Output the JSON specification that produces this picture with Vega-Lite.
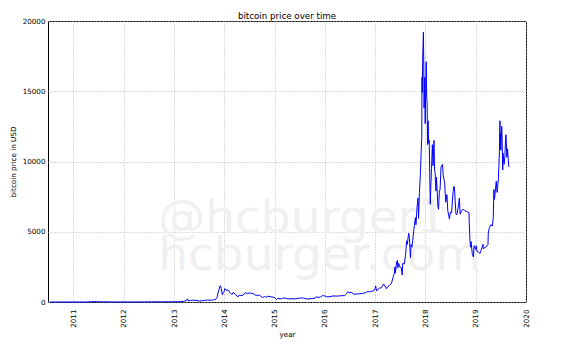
{
 "$schema": "https://vega.github.io/schema/vega-lite/v6.json",
 "width": 478,
 "height": 281,
 "autosize": {"type": "none"},
 "padding": {"left": 48, "top": 21, "right": 53, "bottom": 51},
 "background": "white",
 "title": {"text": "bitcoin price over time", "anchor": "middle", "baseline": "bottom", "offset": 2, "frame": "group", "dy": 15},
 "config": {
  "font": "DejaVu Sans",
  "view": {"stroke": "#000000", "strokeWidth": 1},
  "title": {"font": "DejaVu Sans", "fontSize": 8.7, "fontWeight": "normal", "color": "#000000"},
  "axis": {"domain": false, "ticks": false, "tickSize": 0, "grid": true, "gridColor": "#b8b8b8", "gridDash": [1, 2], "gridWidth": 1, "labelFont": "DejaVu Sans", "labelFontSize": 7.2, "labelColor": "#000000", "labelFlush": false, "titleFont": "DejaVu Sans", "titleFontSize": 7.2, "titleFontWeight": "normal", "titleColor": "#000000", "zindex": 1}
 },
 "layer": [
  {
   "data": {"values": [{"watermark": "@hcburger1"}]},
   "mark": {"type": "text", "align": "left", "baseline": "alphabetic", "fontSize": 47, "color": "#f0f0f0", "font": "DejaVu Sans"},
   "encoding": {
    "text": {"field": "watermark"},
    "x": {"datum": {"year": 2012, "month": 9, "date": 8, "utc": true}, "type": "temporal", "scale": {"type": "utc", "domain": [{"year": 2010, "month": 7, "date": 1, "utc": true}, {"year": 2020, "month": 1, "date": 1, "utc": true}], "nice": false}, "axis": {"title": "year", "values": [{"year": 2011, "utc": true}, {"year": 2012, "utc": true}, {"year": 2013, "utc": true}, {"year": 2014, "utc": true}, {"year": 2015, "utc": true}, {"year": 2016, "utc": true}, {"year": 2017, "utc": true}, {"year": 2018, "utc": true}, {"year": 2019, "utc": true}, {"year": 2020, "utc": true}], "format": "%Y", "formatType": "utc", "labelAngle": -90, "labelPadding": 7, "titlePadding": 3.5, "labelOverlap": false}},
    "y": {"datum": 4900, "type": "quantitative", "scale": {"domain": [0, 20000], "nice": false}, "axis": {"title": "bitcoin price in USD", "values": [0, 5000, 10000, 15000, 20000], "format": "d", "labelPadding": 3, "titlePadding": 4.5}}
   }
  },
  {
   "data": {"values": [{"watermark": "hcburger.com"}]},
   "mark": {"type": "text", "align": "left", "baseline": "alphabetic", "fontSize": 47, "color": "#f0f0f0", "font": "DejaVu Sans"},
   "encoding": {
    "text": {"field": "watermark"},
    "x": {"datum": {"year": 2012, "month": 9, "date": 8, "utc": true}, "type": "temporal"},
    "y": {"datum": 2280, "type": "quantitative"}
   }
  },
  {
   "data": {"values": [
    {"date": "2010-07-17", "price": 0.05}, {"date": "2010-09-01", "price": 0.06}, {"date": "2010-11-01", "price": 0.2}, {"date": "2011-01-01", "price": 0.3},
    {"date": "2011-02-10", "price": 1.0}, {"date": "2011-04-01", "price": 0.8}, {"date": "2011-06-08", "price": 29}, {"date": "2011-07-01", "price": 16},
    {"date": "2011-09-01", "price": 8}, {"date": "2011-11-18", "price": 2.2}, {"date": "2012-01-01", "price": 5}, {"date": "2012-03-01", "price": 5},
    {"date": "2012-06-01", "price": 5.3}, {"date": "2012-08-15", "price": 12}, {"date": "2012-10-01", "price": 12.4}, {"date": "2013-01-01", "price": 13.5},
    {"date": "2013-02-01", "price": 20}, {"date": "2013-03-01", "price": 34}, {"date": "2013-03-31", "price": 93}, {"date": "2013-04-09", "price": 230},
    {"date": "2013-04-16", "price": 68}, {"date": "2013-05-01", "price": 116}, {"date": "2013-06-01", "price": 129}, {"date": "2013-07-05", "price": 68},
    {"date": "2013-08-01", "price": 104}, {"date": "2013-09-01", "price": 140}, {"date": "2013-10-01", "price": 125}, {"date": "2013-10-15", "price": 150},
    {"date": "2013-11-01", "price": 200}, {"date": "2013-11-10", "price": 330}, {"date": "2013-11-18", "price": 700}, {"date": "2013-11-22", "price": 780},
    {"date": "2013-11-30", "price": 1130}, {"date": "2013-12-04", "price": 1150}, {"date": "2013-12-10", "price": 980}, {"date": "2013-12-18", "price": 520},
    {"date": "2013-12-23", "price": 650}, {"date": "2013-12-31", "price": 750}, {"date": "2014-01-05", "price": 950}, {"date": "2014-01-15", "price": 850},
    {"date": "2014-02-01", "price": 830}, {"date": "2014-02-10", "price": 680}, {"date": "2014-02-25", "price": 530}, {"date": "2014-03-05", "price": 670},
    {"date": "2014-03-20", "price": 590}, {"date": "2014-04-10", "price": 360}, {"date": "2014-04-20", "price": 500}, {"date": "2014-05-01", "price": 450},
    {"date": "2014-05-20", "price": 500}, {"date": "2014-06-03", "price": 665}, {"date": "2014-06-20", "price": 600}, {"date": "2014-07-01", "price": 640},
    {"date": "2014-07-20", "price": 625}, {"date": "2014-08-01", "price": 590}, {"date": "2014-08-18", "price": 470}, {"date": "2014-09-01", "price": 480},
    {"date": "2014-09-15", "price": 475}, {"date": "2014-10-05", "price": 320}, {"date": "2014-10-20", "price": 385}, {"date": "2014-11-05", "price": 340},
    {"date": "2014-11-12", "price": 420}, {"date": "2014-12-01", "price": 380}, {"date": "2014-12-15", "price": 350}, {"date": "2015-01-01", "price": 315},
    {"date": "2015-01-14", "price": 178}, {"date": "2015-01-25", "price": 255}, {"date": "2015-02-10", "price": 220}, {"date": "2015-03-01", "price": 260},
    {"date": "2015-03-10", "price": 290}, {"date": "2015-04-01", "price": 245}, {"date": "2015-04-15", "price": 220}, {"date": "2015-05-01", "price": 232},
    {"date": "2015-06-01", "price": 225}, {"date": "2015-06-20", "price": 245}, {"date": "2015-07-10", "price": 290}, {"date": "2015-08-01", "price": 280},
    {"date": "2015-08-24", "price": 210}, {"date": "2015-09-15", "price": 230}, {"date": "2015-10-01", "price": 238}, {"date": "2015-10-25", "price": 285},
    {"date": "2015-11-04", "price": 400}, {"date": "2015-11-11", "price": 310}, {"date": "2015-12-01", "price": 360}, {"date": "2015-12-15", "price": 455},
    {"date": "2016-01-01", "price": 430}, {"date": "2016-01-15", "price": 375}, {"date": "2016-02-01", "price": 370}, {"date": "2016-03-01", "price": 430},
    {"date": "2016-04-01", "price": 416}, {"date": "2016-05-01", "price": 450}, {"date": "2016-05-25", "price": 450}, {"date": "2016-06-01", "price": 535},
    {"date": "2016-06-17", "price": 750}, {"date": "2016-06-25", "price": 660}, {"date": "2016-07-01", "price": 680}, {"date": "2016-07-15", "price": 665},
    {"date": "2016-08-02", "price": 545}, {"date": "2016-08-15", "price": 570}, {"date": "2016-09-01", "price": 575}, {"date": "2016-10-01", "price": 615},
    {"date": "2016-10-25", "price": 655}, {"date": "2016-11-01", "price": 730}, {"date": "2016-11-20", "price": 730}, {"date": "2016-12-01", "price": 755},
    {"date": "2016-12-20", "price": 790}, {"date": "2016-12-31", "price": 960}, {"date": "2017-01-04", "price": 1150}, {"date": "2017-01-11", "price": 780},
    {"date": "2017-01-20", "price": 890}, {"date": "2017-02-01", "price": 990}, {"date": "2017-02-15", "price": 1010}, {"date": "2017-03-03", "price": 1280},
    {"date": "2017-03-17", "price": 1070}, {"date": "2017-03-24", "price": 940}, {"date": "2017-04-01", "price": 1080}, {"date": "2017-04-15", "price": 1180},
    {"date": "2017-04-30", "price": 1350}, {"date": "2017-05-10", "price": 1750}, {"date": "2017-05-20", "price": 2050}, {"date": "2017-05-25", "price": 2500},
    {"date": "2017-05-27", "price": 2050}, {"date": "2017-06-06", "price": 2870}, {"date": "2017-06-11", "price": 2950}, {"date": "2017-06-15", "price": 2440},
    {"date": "2017-06-20", "price": 2750}, {"date": "2017-06-30", "price": 2480}, {"date": "2017-07-10", "price": 2400}, {"date": "2017-07-16", "price": 1920},
    {"date": "2017-07-20", "price": 2750}, {"date": "2017-08-01", "price": 2720}, {"date": "2017-08-10", "price": 3400}, {"date": "2017-08-17", "price": 4350},
    {"date": "2017-08-22", "price": 4100}, {"date": "2017-09-01", "price": 4900}, {"date": "2017-09-06", "price": 4600}, {"date": "2017-09-14", "price": 3150},
    {"date": "2017-09-18", "price": 4090}, {"date": "2017-09-25", "price": 3900}, {"date": "2017-09-30", "price": 4360}, {"date": "2017-10-12", "price": 5430},
    {"date": "2017-10-20", "price": 6000}, {"date": "2017-10-24", "price": 5500}, {"date": "2017-11-01", "price": 6750}, {"date": "2017-11-08", "price": 7400},
    {"date": "2017-11-12", "price": 5950}, {"date": "2017-11-18", "price": 7800}, {"date": "2017-11-26", "price": 9300}, {"date": "2017-12-01", "price": 10800},
    {"date": "2017-12-05", "price": 11700}, {"date": "2017-12-07", "price": 16000}, {"date": "2017-12-09", "price": 14900}, {"date": "2017-12-12", "price": 17300},
    {"date": "2017-12-17", "price": 19200}, {"date": "2017-12-20", "price": 16600}, {"date": "2017-12-22", "price": 13800}, {"date": "2017-12-26", "price": 16000},
    {"date": "2017-12-30", "price": 12700}, {"date": "2018-01-03", "price": 15200}, {"date": "2018-01-06", "price": 17100}, {"date": "2018-01-10", "price": 14500},
    {"date": "2018-01-13", "price": 14200}, {"date": "2018-01-16", "price": 11200}, {"date": "2018-01-20", "price": 12900}, {"date": "2018-01-24", "price": 11300},
    {"date": "2018-01-28", "price": 11500}, {"date": "2018-02-01", "price": 9100}, {"date": "2018-02-05", "price": 6950}, {"date": "2018-02-10", "price": 8500},
    {"date": "2018-02-14", "price": 9500}, {"date": "2018-02-20", "price": 11200}, {"date": "2018-02-25", "price": 9700}, {"date": "2018-03-04", "price": 11500},
    {"date": "2018-03-08", "price": 9400}, {"date": "2018-03-12", "price": 9200}, {"date": "2018-03-18", "price": 7900}, {"date": "2018-03-21", "price": 8900},
    {"date": "2018-03-26", "price": 8100}, {"date": "2018-04-01", "price": 6800}, {"date": "2018-04-06", "price": 6600}, {"date": "2018-04-12", "price": 7900},
    {"date": "2018-04-17", "price": 8000}, {"date": "2018-04-24", "price": 9600}, {"date": "2018-05-05", "price": 9800}, {"date": "2018-05-10", "price": 9000},
    {"date": "2018-05-20", "price": 8500}, {"date": "2018-05-28", "price": 7100}, {"date": "2018-06-06", "price": 7650}, {"date": "2018-06-12", "price": 6500},
    {"date": "2018-06-24", "price": 5900}, {"date": "2018-07-01", "price": 6400}, {"date": "2018-07-10", "price": 6350}, {"date": "2018-07-17", "price": 7400},
    {"date": "2018-07-24", "price": 8200}, {"date": "2018-07-30", "price": 8200}, {"date": "2018-08-10", "price": 6300}, {"date": "2018-08-14", "price": 6200},
    {"date": "2018-08-20", "price": 6300}, {"date": "2018-08-30", "price": 7000}, {"date": "2018-09-04", "price": 7400}, {"date": "2018-09-10", "price": 6250},
    {"date": "2018-09-20", "price": 6500}, {"date": "2018-10-01", "price": 6600}, {"date": "2018-10-10", "price": 6550}, {"date": "2018-10-15", "price": 6500},
    {"date": "2018-10-25", "price": 6450}, {"date": "2018-11-05", "price": 6400}, {"date": "2018-11-13", "price": 6350}, {"date": "2018-11-15", "price": 5600},
    {"date": "2018-11-20", "price": 4400}, {"date": "2018-11-25", "price": 3900}, {"date": "2018-11-28", "price": 4300}, {"date": "2018-12-07", "price": 3400},
    {"date": "2018-12-15", "price": 3200}, {"date": "2018-12-20", "price": 4000}, {"date": "2018-12-24", "price": 4000}, {"date": "2018-12-31", "price": 3750},
    {"date": "2019-01-06", "price": 4000}, {"date": "2019-01-10", "price": 3600}, {"date": "2019-01-20", "price": 3550}, {"date": "2019-02-01", "price": 3450},
    {"date": "2019-02-08", "price": 3650}, {"date": "2019-02-23", "price": 4100}, {"date": "2019-02-24", "price": 3800}, {"date": "2019-03-15", "price": 3900},
    {"date": "2019-03-31", "price": 4100}, {"date": "2019-04-02", "price": 4900}, {"date": "2019-04-10", "price": 5300}, {"date": "2019-04-23", "price": 5500},
    {"date": "2019-05-01", "price": 5400}, {"date": "2019-05-08", "price": 5950}, {"date": "2019-05-13", "price": 8000}, {"date": "2019-05-17", "price": 7300},
    {"date": "2019-05-30", "price": 8600}, {"date": "2019-06-05", "price": 7800}, {"date": "2019-06-15", "price": 8800}, {"date": "2019-06-22", "price": 10700},
    {"date": "2019-06-26", "price": 12900}, {"date": "2019-06-27", "price": 11000}, {"date": "2019-06-29", "price": 12000}, {"date": "2019-07-02", "price": 10800},
    {"date": "2019-07-09", "price": 12500}, {"date": "2019-07-12", "price": 11400}, {"date": "2019-07-16", "price": 9400}, {"date": "2019-07-18", "price": 10600},
    {"date": "2019-07-26", "price": 9800}, {"date": "2019-08-01", "price": 10400}, {"date": "2019-08-06", "price": 11700}, {"date": "2019-08-09", "price": 11900},
    {"date": "2019-08-15", "price": 10300}, {"date": "2019-08-20", "price": 10900}, {"date": "2019-08-28", "price": 9700}, {"date": "2019-08-31", "price": 9600}
   ]},
   "mark": {"type": "line", "color": "#0000ff", "strokeWidth": 1, "interpolate": "linear"},
   "encoding": {
    "x": {"field": "date", "type": "temporal", "title": "year"},
    "y": {"field": "price", "type": "quantitative", "title": "bitcoin price in USD"}
   }
  }
 ]
}
